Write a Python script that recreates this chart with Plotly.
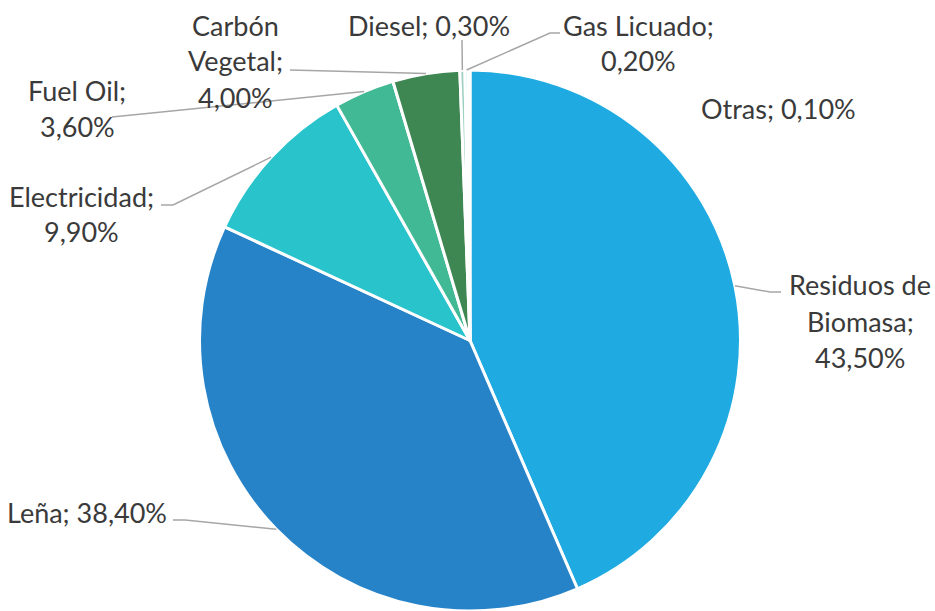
import math
import plotly.graph_objects as go

# ---- data ----
categories = ["Residuos de Biomasa", "Leña", "Electricidad", "Fuel Oil",
              "Carbón Vegetal", "Diesel", "Gas Licuado", "Otras"]
values = [43.5, 38.4, 9.9, 3.6, 4.0, 0.3, 0.2, 0.1]
colors = ["#1FABE2", "#2783C8", "#28C3CB", "#42B995",
          "#3E8752", "#9CCFC0", "#B8E6EC", "#D2F1F4"]

# ---- layout constants ----
W, H = 935, 611
CX, R = 470, 270.5
CY = H - R
TEXT_COLOR = "#3A3A3A"
LINE_COLOR = "#A6A6A6"
FONT = "Lato"
FSIZE = 27

# per-label placement: mode, x center of text, y centres of lines, leader path (label side points)
label_cfg = {
    "Residuos de Biomasa": dict(mode=3, x=860, ys=[285, 321, 357], path=[(781, 292), (770, 292)]),
    "Leña": dict(mode=1, x=87, ys=[512], path=[(173, 520), (185, 520)]),
    "Electricidad": dict(mode=2, x=81, ys=[196, 231], path=[(161, 205), (173, 205)]),
    "Fuel Oil": dict(mode=2, x=77, ys=[90, 126], path=[(112, 117)]),
    "Carbón Vegetal": dict(mode=3, x=235, ys=[26, 61, 97], path=[(290, 70)]),
    "Diesel": dict(mode=1, x=429, ys=[26], path=[(462, 40)]),
    "Gas Licuado": dict(mode=2, x=638, ys=[26, 61], path=[(560, 33), (550, 33)]),
    "Otras": dict(mode=1, x=778, ys=[108], path=None),
}


def px(x, y):
    return x / W, 1 - y / H


fig = go.Figure(go.Pie(
    labels=categories, values=values, sort=False, direction="clockwise",
    rotation=0, textinfo="none", hoverinfo="label+percent",
    marker=dict(colors=colors, line=dict(color="white", width=3)),
    domain=dict(x=[(CX - R) / W, (CX + R) / W], y=[0, 2 * R / H]),
    showlegend=False,
))

annotations = []
shapes = []
total = sum(values)
cum = 0.0
for cat, v in zip(categories, values):
    mid = (cum + v / 2) / total * 2 * math.pi
    cum += v
    cfg = label_cfg[cat]
    pct = f"{v:.2f}".replace(".", ",") + "%"
    if cfg["mode"] == 1:
        lines = [f"{cat}; {pct}"]
    elif cfg["mode"] == 2:
        lines = [f"{cat};", pct]
    else:
        a, b = cat.rsplit(" ", 1)
        lines = [a, b + ";", pct]
    for ln, yy in zip(lines, cfg["ys"]):
        x0, y0 = px(cfg["x"], yy)
        annotations.append(dict(x=x0, y=y0, xref="paper", yref="paper", text=ln,
                                showarrow=False, xanchor="center", yanchor="middle",
                                font=dict(family=FONT, size=FSIZE, color=TEXT_COLOR)))
    if cfg["path"]:
        ax = CX + R * math.sin(mid)
        ay = CY - R * math.cos(mid)
        pts = cfg["path"] + [(ax, ay)]
        d = "M " + " L ".join(f"{px(x, y)[0]},{px(x, y)[1]}" for x, y in pts)
        shapes.append(dict(type="path", path=d, xref="paper", yref="paper",
                           line=dict(color=LINE_COLOR, width=1.5), layer="above"))

fig.update_layout(
    width=W, height=H, margin=dict(l=0, r=0, t=0, b=0),
    paper_bgcolor="white", plot_bgcolor="white",
    annotations=annotations, shapes=shapes,
)
fig.write_html("out.html", config={"displayModeBar": False},
               post_script="document.body.style.margin='0';")
